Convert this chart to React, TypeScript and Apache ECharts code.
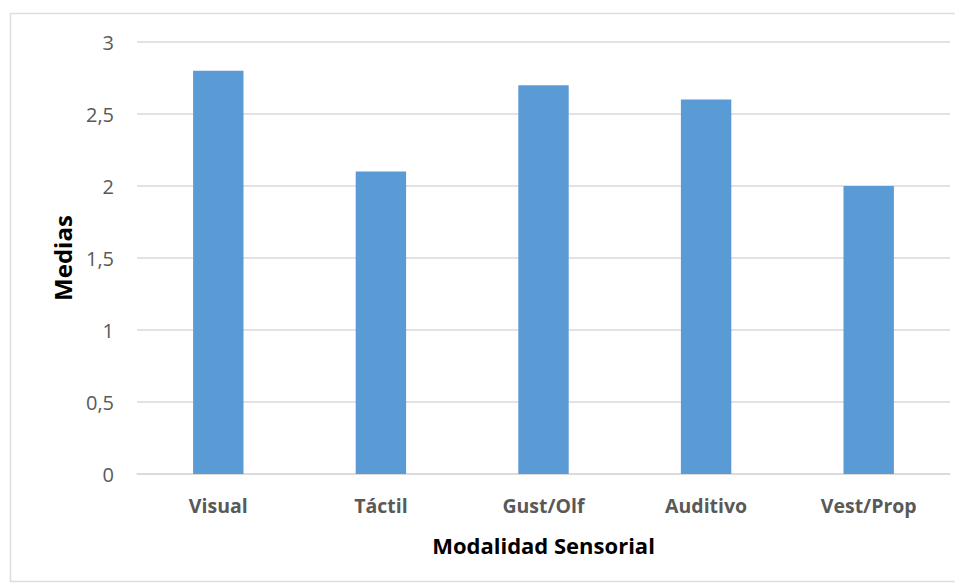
import React, { useEffect, useRef } from "react";
import * as echarts from "echarts";

const categories = ["Visual", "Táctil", "Gust/Olf", "Auditivo", "Vest/Prop"];
const values = [2.8, 2.1, 2.7, 2.6, 2.0];
const yTicks = [0, 0.5, 1, 1.5, 2, 2.5, 3];

export default function App() {
  const ref = useRef<HTMLDivElement>(null);
  useEffect(() => {
    if (!ref.current) return;
    const chart = echarts.init(ref.current, null, { renderer: "svg" });
    chart.setOption({
      animation: false,
      backgroundColor: "#ffffff",
      graphic: [
        {
          type: "polyline",
          shape: {
            points: [
              [955, 13.5],
              [10.5, 13.5],
              [10.5, 581.5],
              [955, 581.5],
            ],
          },
          style: { fill: "none", stroke: "#DDDDDD", lineWidth: 1.5 },
          silent: true,
        },
      ],
      grid: { left: 137, right: 17, top: 42, bottom: 113 },
      xAxis: {
        type: "category",
        data: categories,
        axisLine: { lineStyle: { color: "#D9D9D9", width: 1.5 } },
        axisTick: { show: false },
        axisLabel: {
          color: "#595959",
          fontFamily: "Open Sans",
          fontWeight: "bold",
          fontSize: 19.5,
          margin: 21,
        },
        name: "Modalidad Sensorial",
        nameLocation: "middle",
        nameGap: 60,
        nameTextStyle: {
          color: "#000000",
          fontFamily: "Open Sans",
          fontWeight: "bold",
          fontSize: 22,
        },
      },
      yAxis: {
        type: "value",
        min: 0,
        max: 3,
        interval: 0.5,
        axisLine: { show: false },
        axisTick: { show: false },
        splitLine: { lineStyle: { color: "#D9D9D9", width: 1.5 } },
        axisLabel: {
          color: "#595959",
          fontFamily: "Open Sans",
          fontSize: 20,
          margin: 23,
          formatter: (v: number) =>
            yTicks.includes(v) ? String(v).replace(".", ",") : "",
        },
        name: "Medias",
        nameLocation: "middle",
        nameGap: 63,
        nameTextStyle: {
          color: "#000000",
          fontFamily: "Open Sans",
          fontWeight: "bold",
          fontSize: 24,
        },
      },
      series: [
        {
          type: "bar",
          data: values,
          barWidth: "31%",
          itemStyle: { color: "#5B9BD5" },
        },
      ],
    });
    return () => chart.dispose();
  }, []);
  return (
    <div
      ref={ref}
      style={{ position: "fixed", left: 0, top: 0, width: 967, height: 587 }}
    />
  );
}
